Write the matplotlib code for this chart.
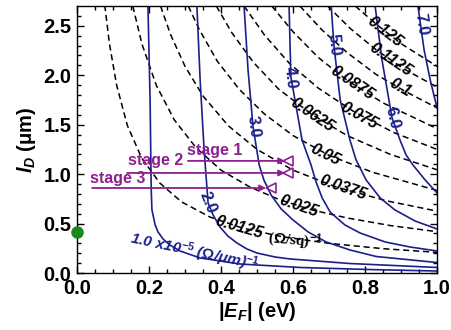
import numpy as np
import matplotlib
matplotlib.use('Agg')
import matplotlib.pyplot as plt

plt.rcParams['font.family'] = ['Liberation Sans', 'DejaVu Sans']
plt.rcParams['font.weight'] = 'bold'
plt.rcParams['mathtext.fontset'] = 'custom'
plt.rcParams['mathtext.rm'] = 'Liberation Sans:bold'
plt.rcParams['mathtext.it'] = 'Liberation Sans:italic:bold'
plt.rcParams['mathtext.bf'] = 'Liberation Sans:bold'

# dashed: sheet conductance (Ohm/sq)^-1
sheet_levels = ['0.0125', '0.025', '0.0375', '0.05', '0.0625', '0.075', '0.0875', '0.1', '0.1125', '0.125']
sheet_E = [
    [0.077, 0.09, 0.11, 0.14, 0.18, 0.23, 0.29, 0.37, 0.46, 0.57, 0.70, 0.85, 1.0],
    [0.155, 0.18, 0.22, 0.27, 0.33, 0.40, 0.48, 0.56, 0.65, 0.75, 0.87, 1.0],
    [0.232, 0.26, 0.30, 0.35, 0.42, 0.50, 0.60, 0.72, 0.86, 1.0],
    [0.309, 0.34, 0.39, 0.45, 0.52, 0.60, 0.70, 0.82, 1.0],
    [0.387, 0.43, 0.49, 0.56, 0.65, 0.75, 0.87, 1.0],
    [0.464, 0.52, 0.59, 0.67, 0.77, 0.88, 1.0],
    [0.541, 0.60, 0.67, 0.75, 0.85, 1.0],
    [0.619, 0.68, 0.75, 0.83, 0.91, 1.0],
    [0.696, 0.76, 0.83, 0.91, 1.0],
    [0.773, 0.83, 0.90, 1.0],
]
sheet_lD = [
    [2.71, 2.32, 1.90, 1.49, 1.16, 0.91, 0.72, 0.565, 0.454, 0.367, 0.30, 0.246, 0.209],
    [2.70, 2.32, 1.90, 1.55, 1.27, 1.04, 0.87, 0.745, 0.64, 0.557, 0.48, 0.418],
    [2.70, 2.41, 2.09, 1.79, 1.49, 1.25, 1.04, 0.87, 0.73, 0.626],
    [2.70, 2.46, 2.14, 1.86, 1.61, 1.39, 1.19, 1.02, 0.835],
    [2.70, 2.43, 2.13, 1.86, 1.61, 1.39, 1.20, 1.044],
    [2.70, 2.41, 2.12, 1.87, 1.63, 1.42, 1.25],
    [2.70, 2.44, 2.18, 1.95, 1.72, 1.46],
    [2.70, 2.46, 2.23, 2.01, 1.84, 1.67],
    [2.70, 2.47, 2.26, 2.06, 1.88],
    [2.70, 2.52, 2.32, 2.09],
]
sheet_label_pos = [(0.45, 0.46), (0.617, 0.68), (0.739, 0.86), (0.689, 1.20), (0.653, 1.60),
                   (0.783, 1.59), (0.764, 1.92), (0.897, 1.87), (0.872, 2.16), (0.856, 2.44)]
sheet_label_rot = [-16, -19, -19, -26, -34, -29, -34, -30, -34, -38]

# solid: conductance per length, x1e-5 (Ohm/um)^-1
edge_levels = ['1.0', '2.0', '3.0', '4.0', '5.0', '6.0', '7.0']
edge_E = [
    [0.197, 0.203, 0.206, 0.208, 0.217, 0.225, 0.239, 0.258, 0.286, 0.342, 0.453, 0.619, 0.814, 1.0],
    [0.333, 0.342, 0.353, 0.364, 0.378, 0.397, 0.419, 0.444, 0.472, 0.50, 0.55, 0.592, 0.758, 1.0],
    [0.464, 0.475, 0.489, 0.506, 0.519, 0.539, 0.567, 0.60, 0.642, 0.692, 0.758, 0.831, 1.0],
    [0.589, 0.594, 0.625, 0.65, 0.664, 0.681, 0.703, 0.744, 0.786, 0.856, 0.925, 1.0],
    [0.706, 0.714, 0.731, 0.758, 0.775, 0.803, 0.842, 0.883, 0.939, 1.0],
    [0.828, 0.847, 0.875, 0.897, 0.914, 0.933, 0.967, 1.0],
    [0.947, 0.964, 0.981, 1.0],
]
edge_lD = [
    [2.70, 1.75, 0.86, 0.64, 0.486, 0.415, 0.344, 0.283, 0.223, 0.152, 0.091, 0.056, 0.035, 0.020],
    [2.70, 1.95, 1.245, 0.709, 0.587, 0.466, 0.374, 0.304, 0.243, 0.202, 0.162, 0.142, 0.096, 0.056],
    [2.70, 2.055, 1.478, 1.093, 0.941, 0.789, 0.648, 0.536, 0.415, 0.314, 0.233, 0.167, 0.106],
    [2.70, 1.984, 1.346, 1.093, 0.921, 0.759, 0.617, 0.486, 0.405, 0.314, 0.263, 0.223],
    [2.70, 2.287, 1.751, 1.346, 1.144, 0.941, 0.759, 0.638, 0.526, 0.445],
    [2.70, 2.156, 1.569, 1.346, 1.194, 1.093, 0.941, 0.81],
    [2.70, 2.257, 1.953, 1.67],
]
edge_label_pos = [None, (0.364, 0.71), (0.489, 1.48), (0.594, 1.98), (0.714, 2.31), (0.875, 1.57), (0.956, 2.51)]
edge_label_rot = [0, -68, -83, -84, -85, -77, -82]

# stages
stage_names = ['stage 1', 'stage 2', 'stage 3']
stage_lD = [1.134, 1.012, 0.86]
stage_start = [0.308, 0.139, 0.042]
stage_end = [0.578, 0.578, 0.525]
stage_mark = [0.586, 0.586, 0.539]
stage_text_pos = [(0.305, 1.16), (0.142, 1.06), (0.036, 0.885)]

dot_E = [0.0]
dot_lD = [0.415]

blue = '#1b1f8a'
purple = '#8e1f8e'

fig = plt.figure(figsize=(4.52, 3.30), dpi=100)
ax = fig.add_axes([0.1704, 0.1727, 0.7965, 0.809])

for E, l in zip(sheet_E, sheet_lD):
    ax.plot(E, l, color='black', lw=1.1, ls=(0, (4, 2.5)))
for lev, (x, y), r in zip(sheet_levels, sheet_label_pos, sheet_label_rot):
    ax.text(x, y, lev, rotation=r, ha='center', va='center', fontsize=11.5,
            fontweight='bold', fontstyle='italic', color='black')
ax.text(0.605, 0.33, r'($\Omega$/sq)$^{-1}$', rotation=-5, ha='center', va='center',
        fontsize=11, family=['Liberation Serif', 'DejaVu Serif'], fontweight='bold')

for E, l in zip(edge_E, edge_lD):
    ax.plot(E, l, color=blue, lw=1.2)
for lev, pos, r in zip(edge_levels, edge_label_pos, edge_label_rot):
    if pos is None:
        continue
    ax.text(pos[0], pos[1], lev, rotation=r, ha='center', va='center', fontsize=11.5,
            fontweight='bold', color=blue)
ax.text(0.325, 0.215, r'1.0 x10$^{-5}$ ($\Omega$/$\mu$m)$^{-1}$', rotation=-12,
        ha='center', va='center', fontsize=11, fontweight='bold', fontstyle='italic', color=blue)

for name, l, x0, x1, xm, tp in zip(stage_names, stage_lD, stage_start, stage_end, stage_mark, stage_text_pos):
    ax.annotate('', xy=(x1, l), xytext=(x0, l),
                arrowprops=dict(arrowstyle='-|>', color=purple, lw=1.3, mutation_scale=9,
                                shrinkA=0, shrinkB=0))
    ax.plot([xm], [l], marker='<', ms=7, mfc='none', mec=purple, mew=1.2)
    ax.text(tp[0], tp[1], name, ha='left', va='bottom', fontsize=11.5, fontweight='bold', color=purple)

ax.plot(dot_E, dot_lD, 'o', color='#1a8a1a', ms=8, clip_on=False, zorder=5)

ax.set_xlim(0, 1.0)
ax.set_ylim(0, 2.7)
ax.set_xticks(np.arange(0, 1.01, 0.2))
ax.set_yticks(np.arange(0, 2.6, 0.5))
ax.set_xticks(np.arange(0, 1.001, 0.05), minor=True)
ax.set_yticks(np.arange(0, 2.7, 0.1), minor=True)
ax.set_xticklabels(['%.1f' % v for v in np.arange(0, 1.01, 0.2)])
ax.set_yticklabels(['%.1f' % v for v in np.arange(0, 2.6, 0.5)])
ax.tick_params(which='both', direction='in', top=True, right=True, width=1)
ax.tick_params(which='major', length=5, labelsize=14.5, pad=4)
ax.tick_params(which='minor', length=3)
for s in ax.spines.values():
    s.set_linewidth(1.0)

ax.set_xlabel(r'$|E_F|$ (eV)', fontsize=14.5, fontweight='bold', labelpad=2)
ax.set_ylabel(r'$l_D$ ($\mathrm{\mu}$m)', fontsize=14.5, fontweight='bold', labelpad=4)

plt.savefig('out.png', dpi=100, facecolor='white')
